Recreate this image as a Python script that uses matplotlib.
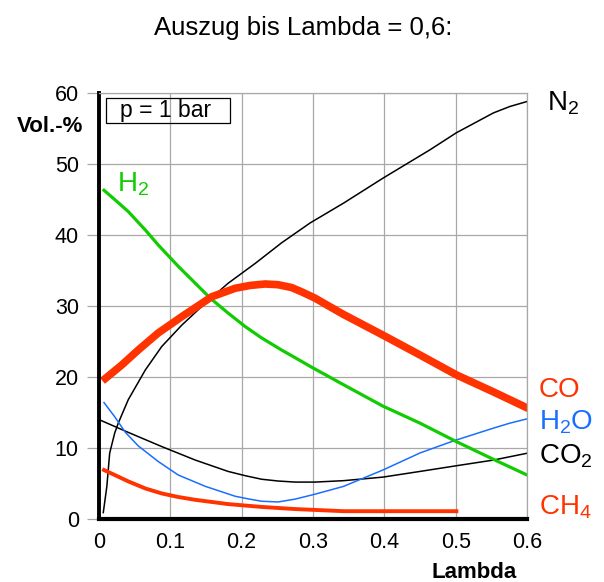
# Auszug bis Lambda = 0,6 - Gaszusammensetzung bei p = 1 bar

import numpy as np
import matplotlib.pyplot as plt
from matplotlib.patches import Rectangle

plt.rcParams['font.family'] = ['Liberation Sans', 'DejaVu Sans']
plt.rcParams['mathtext.fontset'] = 'custom'
plt.rcParams['mathtext.rm'] = 'Liberation Sans'
plt.rcParams['mathtext.default'] = 'regular'

# values (lambda, Vol.-%)
lam_h2 = [0.007, 0.022, 0.041, 0.065, 0.083, 0.111, 0.135, 0.156, 0.181, 0.205,
          0.228, 0.256, 0.284, 0.296, 0.343, 0.398, 0.450, 0.501, 0.553, 0.600]
h2 = [46.3, 45.0, 43.3, 40.7, 38.6, 35.6, 33.2, 31.1, 29.0, 27.1,
      25.5, 23.8, 22.2, 21.5, 18.9, 15.9, 13.5, 10.9, 8.4, 6.2]

lam_co = [0.009, 0.032, 0.055, 0.083, 0.116, 0.158, 0.191, 0.212, 0.233, 0.251,
          0.270, 0.284, 0.303, 0.322, 0.343, 0.398, 0.450, 0.501, 0.553, 0.597]
co = [19.8, 21.7, 23.8, 26.2, 28.5, 31.3, 32.5, 32.9, 33.1, 33.0,
      32.6, 32.0, 31.1, 30.0, 28.8, 25.9, 23.1, 20.3, 17.9, 15.8]

lam_n2 = [0.006, 0.011, 0.015, 0.022, 0.027, 0.041, 0.065, 0.088, 0.116, 0.149,
          0.181, 0.219, 0.256, 0.296, 0.343, 0.398, 0.464, 0.501, 0.553, 0.576, 0.600]
n2 = [0.9, 4.6, 9.3, 12.1, 13.5, 16.8, 21.0, 24.3, 27.3, 30.4,
      33.2, 36.0, 38.9, 41.7, 44.5, 48.0, 52.0, 54.4, 57.2, 58.1, 58.8]

lam_co2 = [0.0, 0.041, 0.088, 0.135, 0.181, 0.205, 0.228, 0.251, 0.275, 0.303, 0.343, 0.398,
           0.450, 0.501, 0.553, 0.602]
co2 = [14.0, 12.2, 10.2, 8.3, 6.7, 6.1, 5.6, 5.35, 5.2, 5.2, 5.4, 5.9,
       6.7, 7.5, 8.3, 9.3]

lam_h2o = [0.007, 0.022, 0.037, 0.055, 0.083, 0.111, 0.149, 0.191, 0.211, 0.228, 0.251,
           0.275, 0.303, 0.343, 0.398, 0.450, 0.497, 0.553, 0.576, 0.600]
h2o = [16.4, 14.4, 12.2, 10.3, 8.1, 6.2, 4.6, 3.2, 2.8, 2.5, 2.4,
       2.8, 3.5, 4.6, 6.9, 9.3, 11.0, 12.8, 13.5, 14.1]

lam_ch4 = [0.007, 0.022, 0.041, 0.065, 0.088, 0.111, 0.135, 0.181, 0.228, 0.275, 0.343,
           0.398, 0.501]
ch4 = [6.9, 6.2, 5.3, 4.3, 3.6, 3.1, 2.7, 2.1, 1.7, 1.4, 1.1,
       1.1, 1.1]

xticks = [0, 0.1, 0.2, 0.3, 0.4, 0.5, 0.6]
xticklabels = ['0', '0.1', '0.2', '0.3', '0.4', '0.5', '0.6']
yticks = [0, 10, 20, 30, 40, 50, 60]

red = '#ff3300'
green = '#11cc00'
blue = '#1a6eff'

fig = plt.figure(figsize=(6.04, 5.82), dpi=100)
ax = fig.add_axes([99 / 604, 1 - 519 / 582, 428 / 604, 426 / 582])

ax.plot(lam_n2, n2, color='black', lw=1.1)
ax.plot(lam_co2, co2, color='black', lw=1.1)
ax.plot(lam_h2o, h2o, color=blue, lw=1.1)
ax.plot(lam_h2, h2, color=green, lw=2.3)
ax.plot(lam_ch4, ch4, color=red, lw=2.8)
ax.plot(lam_co, co, color=red, lw=5.5)

ax.set_xlim(0, 0.6)
ax.set_ylim(0, 60)
ax.set_xticks(xticks)
ax.set_xticklabels(xticklabels)
ax.set_yticks(yticks)
ax.grid(True, color='#a8a8a8', lw=0.9)
ax.set_axisbelow(True)

ax.tick_params(axis='x', length=0, pad=9, labelsize=15.5)
ax.tick_params(axis='y', length=8.5, width=0.9, color='#a8a8a8', pad=6, labelsize=15.5)

ax.spines['left'].set_linewidth(2.8)
ax.spines['bottom'].set_linewidth(3.0)
for s in ['top', 'right']:
    ax.spines[s].set_color('#a8a8a8')
    ax.spines[s].set_linewidth(0.9)

fig.text(303 / 604, 1 - 28 / 582, 'Auszug bis Lambda = 0,6:', ha='center', va='center', fontsize=18.5)
fig.text(50 / 604, 1 - 126 / 582, 'Vol.-%', ha='center', va='center', fontsize=16, fontweight='bold')
fig.text(474 / 604, 1 - 572 / 582, 'Lambda', ha='center', va='center', fontsize=16, fontweight='bold')

# box "p = 1 bar"
fig.patches.append(Rectangle((106 / 604, 1 - 123 / 582), 124 / 604, 25 / 582,
                             transform=fig.transFigure, fill=False, ec='black', lw=0.9))
fig.text(166 / 604, 1 - 111 / 582, 'p = 1 bar', ha='center', va='center', fontsize=16.5)

# curve labels
fig.text(547 / 604, 1 - 103 / 582, r'N$_2$', va='center', fontsize=20, color='black')
fig.text(117 / 604, 1 - 184 / 582, r'H$_2$', va='center', fontsize=20, color=green)
fig.text(539 / 604, 1 - 390 / 582, 'CO', va='center', fontsize=20, color=red)
fig.text(539 / 604, 1 - 422 / 582, r'H$_2$O', va='center', fontsize=20, color=blue)
fig.text(539 / 604, 1 - 456 / 582, r'CO$_2$', va='center', fontsize=20, color='black')
fig.text(539 / 604, 1 - 507 / 582, r'CH$_4$', va='center', fontsize=20, color=red)

plt.savefig('out.png', dpi=100)
